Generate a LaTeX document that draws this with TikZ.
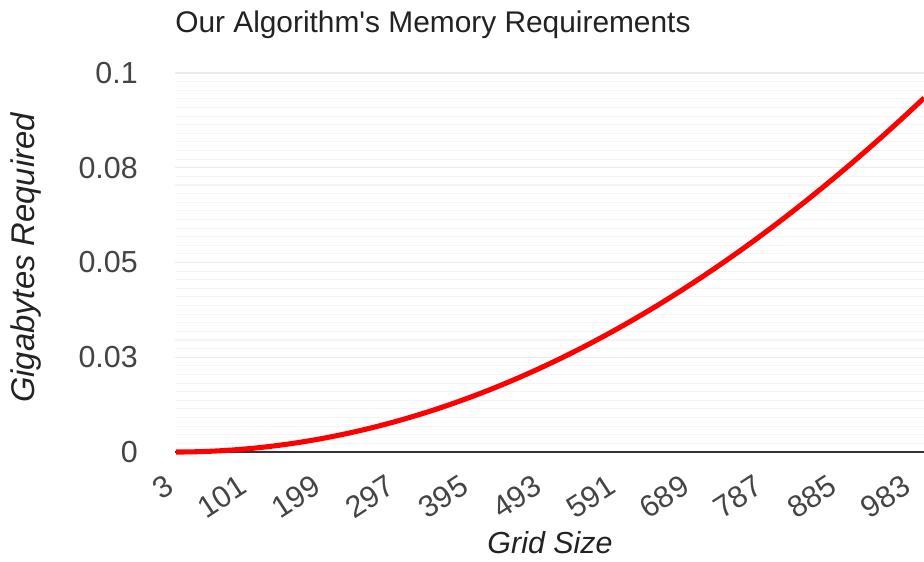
\documentclass[tikz,border=0pt]{standalone}
\usepackage{fontspec}
\setmainfont{Liberation Sans}
\newfontfamily\plainsans{Liberation Sans}[Ligatures=TeXOff]
\definecolor{titlecol}{HTML}{222222}
\definecolor{tickcol}{HTML}{444444}
\definecolor{majorcol}{HTML}{EBEBEB}
\definecolor{minorcol}{HTML}{F4F4F4}
\definecolor{axiscol}{HTML}{333333}
\definecolor{curvecol}{HTML}{FF0000}
\begin{document}
\begin{tikzpicture}[x=0.75pt,y=-0.75pt,
  minorgrid/.style={draw=minorcol,line width=0.8pt},
  majorgrid/.style={draw=majorcol,line width=1.1pt},
  axisline/.style={draw=axiscol,line width=1.1pt},
  curveline/.style={draw=curvecol,line width=3.8pt,line cap=butt,line join=round},
  ticklab/.style={inner sep=0pt,text=tickcol,font=\fontsize{22.8}{27}\selectfont},
  xticklab/.style={ticklab,anchor=south east,rotate=33},
  axtitle/.style={inner sep=0pt,text=titlecol,font=\fontsize{22.8}{27}\selectfont\itshape},
  charttitle/.style={inner sep=0pt,text=titlecol,font=\plainsans\fontsize{22.4}{27}\selectfont}]
\useasboundingbox (0,0) rectangle (924,561);
\fill[white] (0,0) rectangle (924,561);
% minor gridlines
\foreach \i in {0,...,3}{
  \foreach \j in {1,...,10}{
    \pgfmathsetmacro\yy{73+\i*94.75+\j*94.75/11}
    \draw[minorgrid] (175,\yy) -- (924,\yy);
  }
}
% major gridlines
\foreach \yy in {73,167.75,262.5,357.25}{
  \draw[majorgrid] (175,\yy) -- (924,\yy);
}
% axis
\coordinate (axL) at (175,452);
\coordinate (axR) at (924,452);
\draw[axisline] (axL) -- (axR);
% curve
\draw[curveline] plot[domain=176:924,samples=90,smooth] (\x,{452-354*((\x-176)/748)^2});
% y tick labels
\node[ticklab,anchor=east] (y1) at (138,73) {0.1};
\node[ticklab,anchor=east] (y2) at (138,167.75) {0.08};
\node[ticklab,anchor=east] (y3) at (138,262.5) {0.05};
\node[ticklab,anchor=east] (y4) at (138,357.25) {0.03};
\node[ticklab,anchor=east] (y5) at (138,452) {0};
% x tick labels
\foreach \v in {3,101,199,297,395,493,591,689,787,885,983}{
  \pgfmathsetmacro\xx{176+(\v-3)*0.752}
  \node[xticklab] (x\v) at (\xx,492) {\v};
}
% titles
\node[charttitle,anchor=base west] (title) at (175,32.5) {Our Algorithm's Memory Requirements};
\node[axtitle,anchor=base] (xtitle) at (550,553) {Grid Size};
\node[axtitle,anchor=base,rotate=90,font=\fontsize{24.6}{28}\selectfont\itshape] (ytitle) at (34,258) {Gigabytes Required};
\end{tikzpicture}
\end{document}
